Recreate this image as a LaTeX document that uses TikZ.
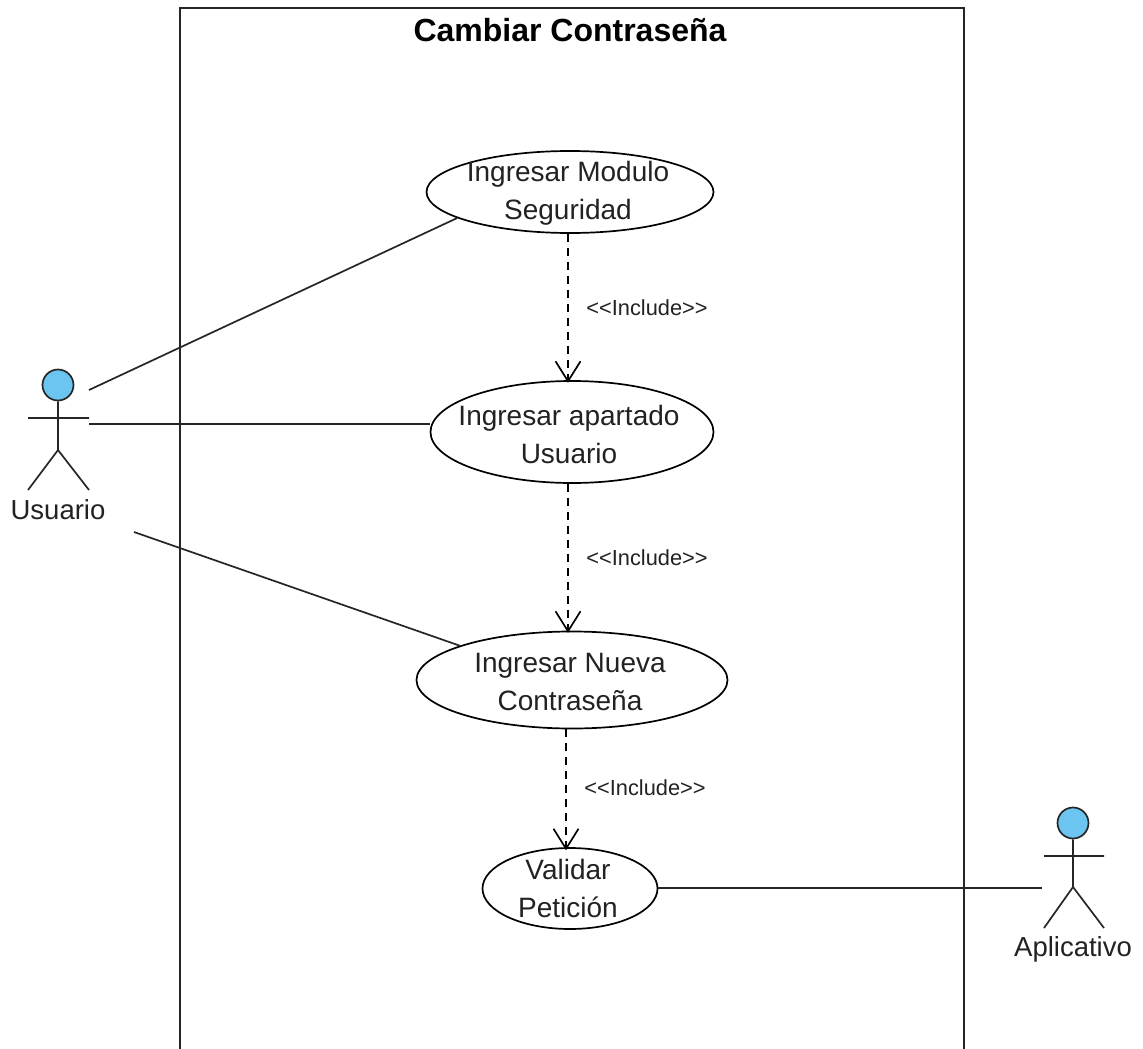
\documentclass[tikz,border=0pt]{standalone}
\usepackage{fontspec}
\setmainfont{Liberation Sans}
\usetikzlibrary{shapes.geometric,arrows.meta}
\definecolor{actorblue}{HTML}{6CC5F0}
\definecolor{inktext}{HTML}{222222}
\tikzset{
  x=1pt,y=-1pt,
  usecase/.style={draw=black,ellipse,inner sep=0pt,line width=1.7pt},
  uctext/.style={inner sep=0pt,align=center,text=inktext,font=\fontsize{28}{38}\selectfont},
  assoc/.style={draw=black!85,line width=1.7pt},
  incl/.style={draw=black,line width=1.7pt,dash pattern=on 8pt off 6pt,-{Straight Barb[length=20pt,width=25pt,line width=1.7pt]}},
  lbl/.style={font=\fontsize{21.8}{26}\selectfont,inner sep=0pt,text=inktext},
  actorname/.style={font=\fontsize{27.5}{33}\selectfont,inner sep=0pt,text=inktext},
  head/.style={draw=black!85,circle,fill=actorblue,minimum size=31pt,inner sep=0pt,line width=1.7pt},
}
\begin{document}
\begin{tikzpicture}
\useasboundingbox (0,0) rectangle (1143,1049);
\path[fill=white] (0,0) rectangle (1143,1049);
\draw[line width=1.7pt,draw=black!85] (180,1049) -- (180,8) -- (964,8) -- (964,1049);
\node[inner sep=0pt,font=\bfseries\fontsize{32}{38}\selectfont] (title) at (570,30) {Cambiar Contraseña};
\node[usecase,minimum width=287pt,minimum height=82pt] (uc1) at (570,192) {};
\node[usecase,minimum width=283pt,minimum height=102pt] (uc2) at (572,432) {};
\node[usecase,minimum width=311pt,minimum height=97pt] (uc3) at (572,680) {};
\node[usecase,minimum width=175pt,minimum height=81pt] (uc4) at (570,888.5) {};
\node[uctext] (t1) at (568,193.5) {Ingresar Modulo\\Seguridad};
\node[uctext] (t2) at (569,434) {Ingresar apartado\\Usuario};
\node[uctext] (t3) at (570,681.5) {Ingresar Nueva\\Contraseña};
\node[uctext] (t4) at (568,888.5) {Validar\\Petición};
% actor Usuario
\node[head] (h1) at (58,385) {};
\coordinate (hip1) at (58,450);
\coordinate (al1) at (28,418);
\coordinate (ar1) at (89,418);
\coordinate (ll1) at (28,490);
\coordinate (rl1) at (89,490);
\draw[assoc] (h1.south) -- (hip1) (al1) -- (ar1) (hip1) -- (ll1) (hip1) -- (rl1);
\node[actorname] (a1) at (58,510) {Usuario};
% actor Aplicativo
\node[head] (h2) at (1073,823) {};
\coordinate (hip2) at (1073,887);
\coordinate (al2) at (1044,856);
\coordinate (ar2) at (1104,856);
\coordinate (ll2) at (1044,928);
\coordinate (rl2) at (1104,928);
\draw[assoc] (h2.south) -- (hip2) (al2) -- (ar2) (hip2) -- (ll2) (hip2) -- (rl2);
\node[actorname] (a2) at (1073,949) {Aplicativo};
% associations
\coordinate (s1) at (89,390);
\coordinate (s2) at (89,424);
\coordinate (s3) at (134,532);
\coordinate (s4) at (1042,888);
\draw[assoc] (s1) -- (uc1.193);
\draw[assoc] (s2) -- (s2 -| uc2.west);
\draw[assoc] (s3) -- (uc3.163);
\draw[assoc] (s4 -| uc4.east) -- (s4);
% includes
\draw[incl] (uc2.north |- uc1.south) ++(-4,0) -- ++(0,149);
\draw[incl] (uc2.south) ++(-4,0) -- ++(0,149);
\draw[incl] (uc3.south) ++(-6,0) -- ++(0,121);
\node[lbl] (l1) at (647,308) {<{}<Include>{}>};
\node[lbl] (l2) at (647,558) {<{}<Include>{}>};
\node[lbl] (l3) at (645,788) {<{}<Include>{}>};
\end{tikzpicture}
\end{document}
